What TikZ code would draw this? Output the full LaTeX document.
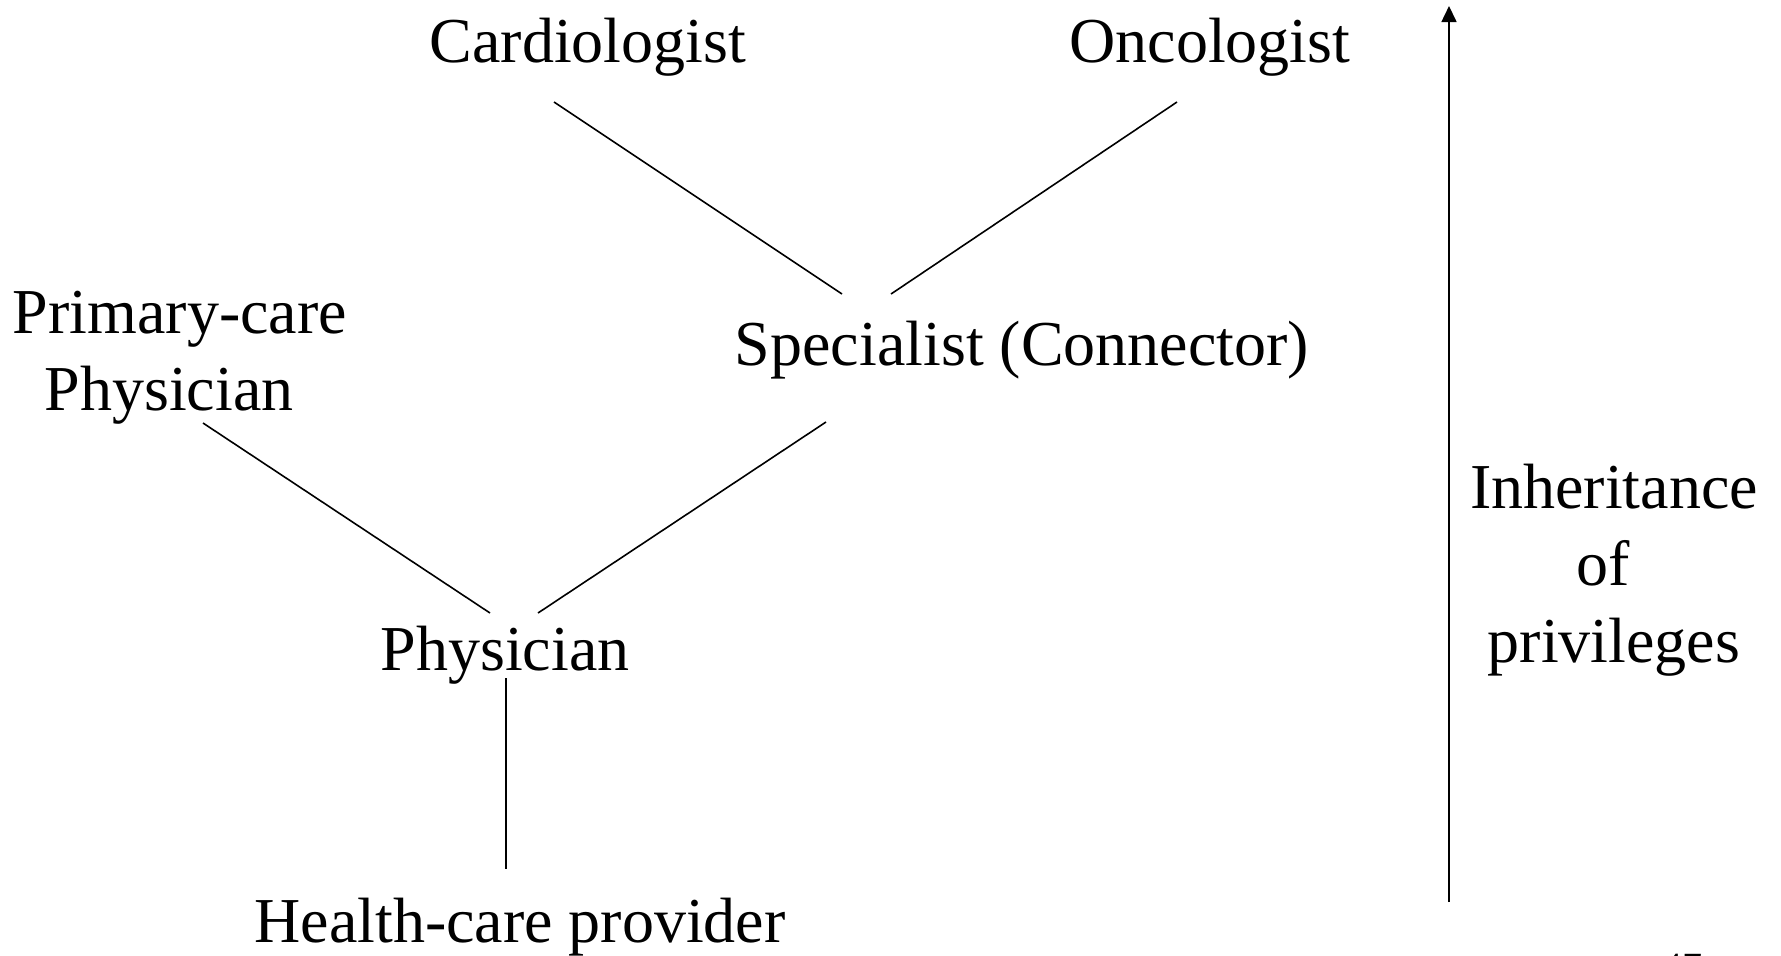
\documentclass[tikz,border=0pt]{standalone}
\usepackage{fontspec}
\setmainfont{Liberation Serif}
\usetikzlibrary{calc,arrows.meta,positioning}
\tikzset{
  lbl/.style={font=\fontsize{32}{39}\selectfont, inner sep=0pt, anchor=base},
  link/.style={line width=0.8pt}
}
\begin{document}
\begin{tikzpicture}[x=0.5pt,y=-0.5pt]
\newcommand{\LineSkp}{38.5pt}
\useasboundingbox (0,0) rectangle (1781,955);

\node[lbl] (card) at (588,62) {Cardiologist};
\node[lbl] (onco) at (1210,62) {Oncologist};
\node[lbl] (spec) at (1022,365) {Specialist (Connector)};
\node[lbl, align=center, font=\fontsize{32}{\LineSkp}\selectfont] (prim) at (180,410) {Primary-care\\Physician\hspace*{11pt}};
\node[lbl] (phys) at (505,670) {Physician};
\node[lbl] (hcp) at (520,942) {Health-care provider};
\node[lbl, align=center, font=\fontsize{32}{\LineSkp}\selectfont] (inh) at (1614,662) {Inheritance\\of\rule{11pt}{0pt}\\privileges};
\node[lbl, font=\fontsize{20}{24}\selectfont] (pgno) at (1682,980) {47};

\foreach \a/\ax/\ay/\b/\bx/\by in
{card/-34/40/spec/-180/-71,
 onco/-33/40/spec/-131/-71,
 prim/23/13/phys/-15/-57,
 spec/-196/57/phys/33/-57,
 phys/1/8/hcp/-14/-73}
{
    \draw[link] ($(\a.base)+(\ax,\ay)$) -- ($(\b.base)+(\bx,\by)$);
}

\coordinate (arrbot) at (1449,902);
\coordinate (arrtop) at (1449,6);
\draw[link, -{Triangle[length=8pt,width=7.5pt]}] (arrbot) -- (arrtop);
\end{tikzpicture}
\end{document}
